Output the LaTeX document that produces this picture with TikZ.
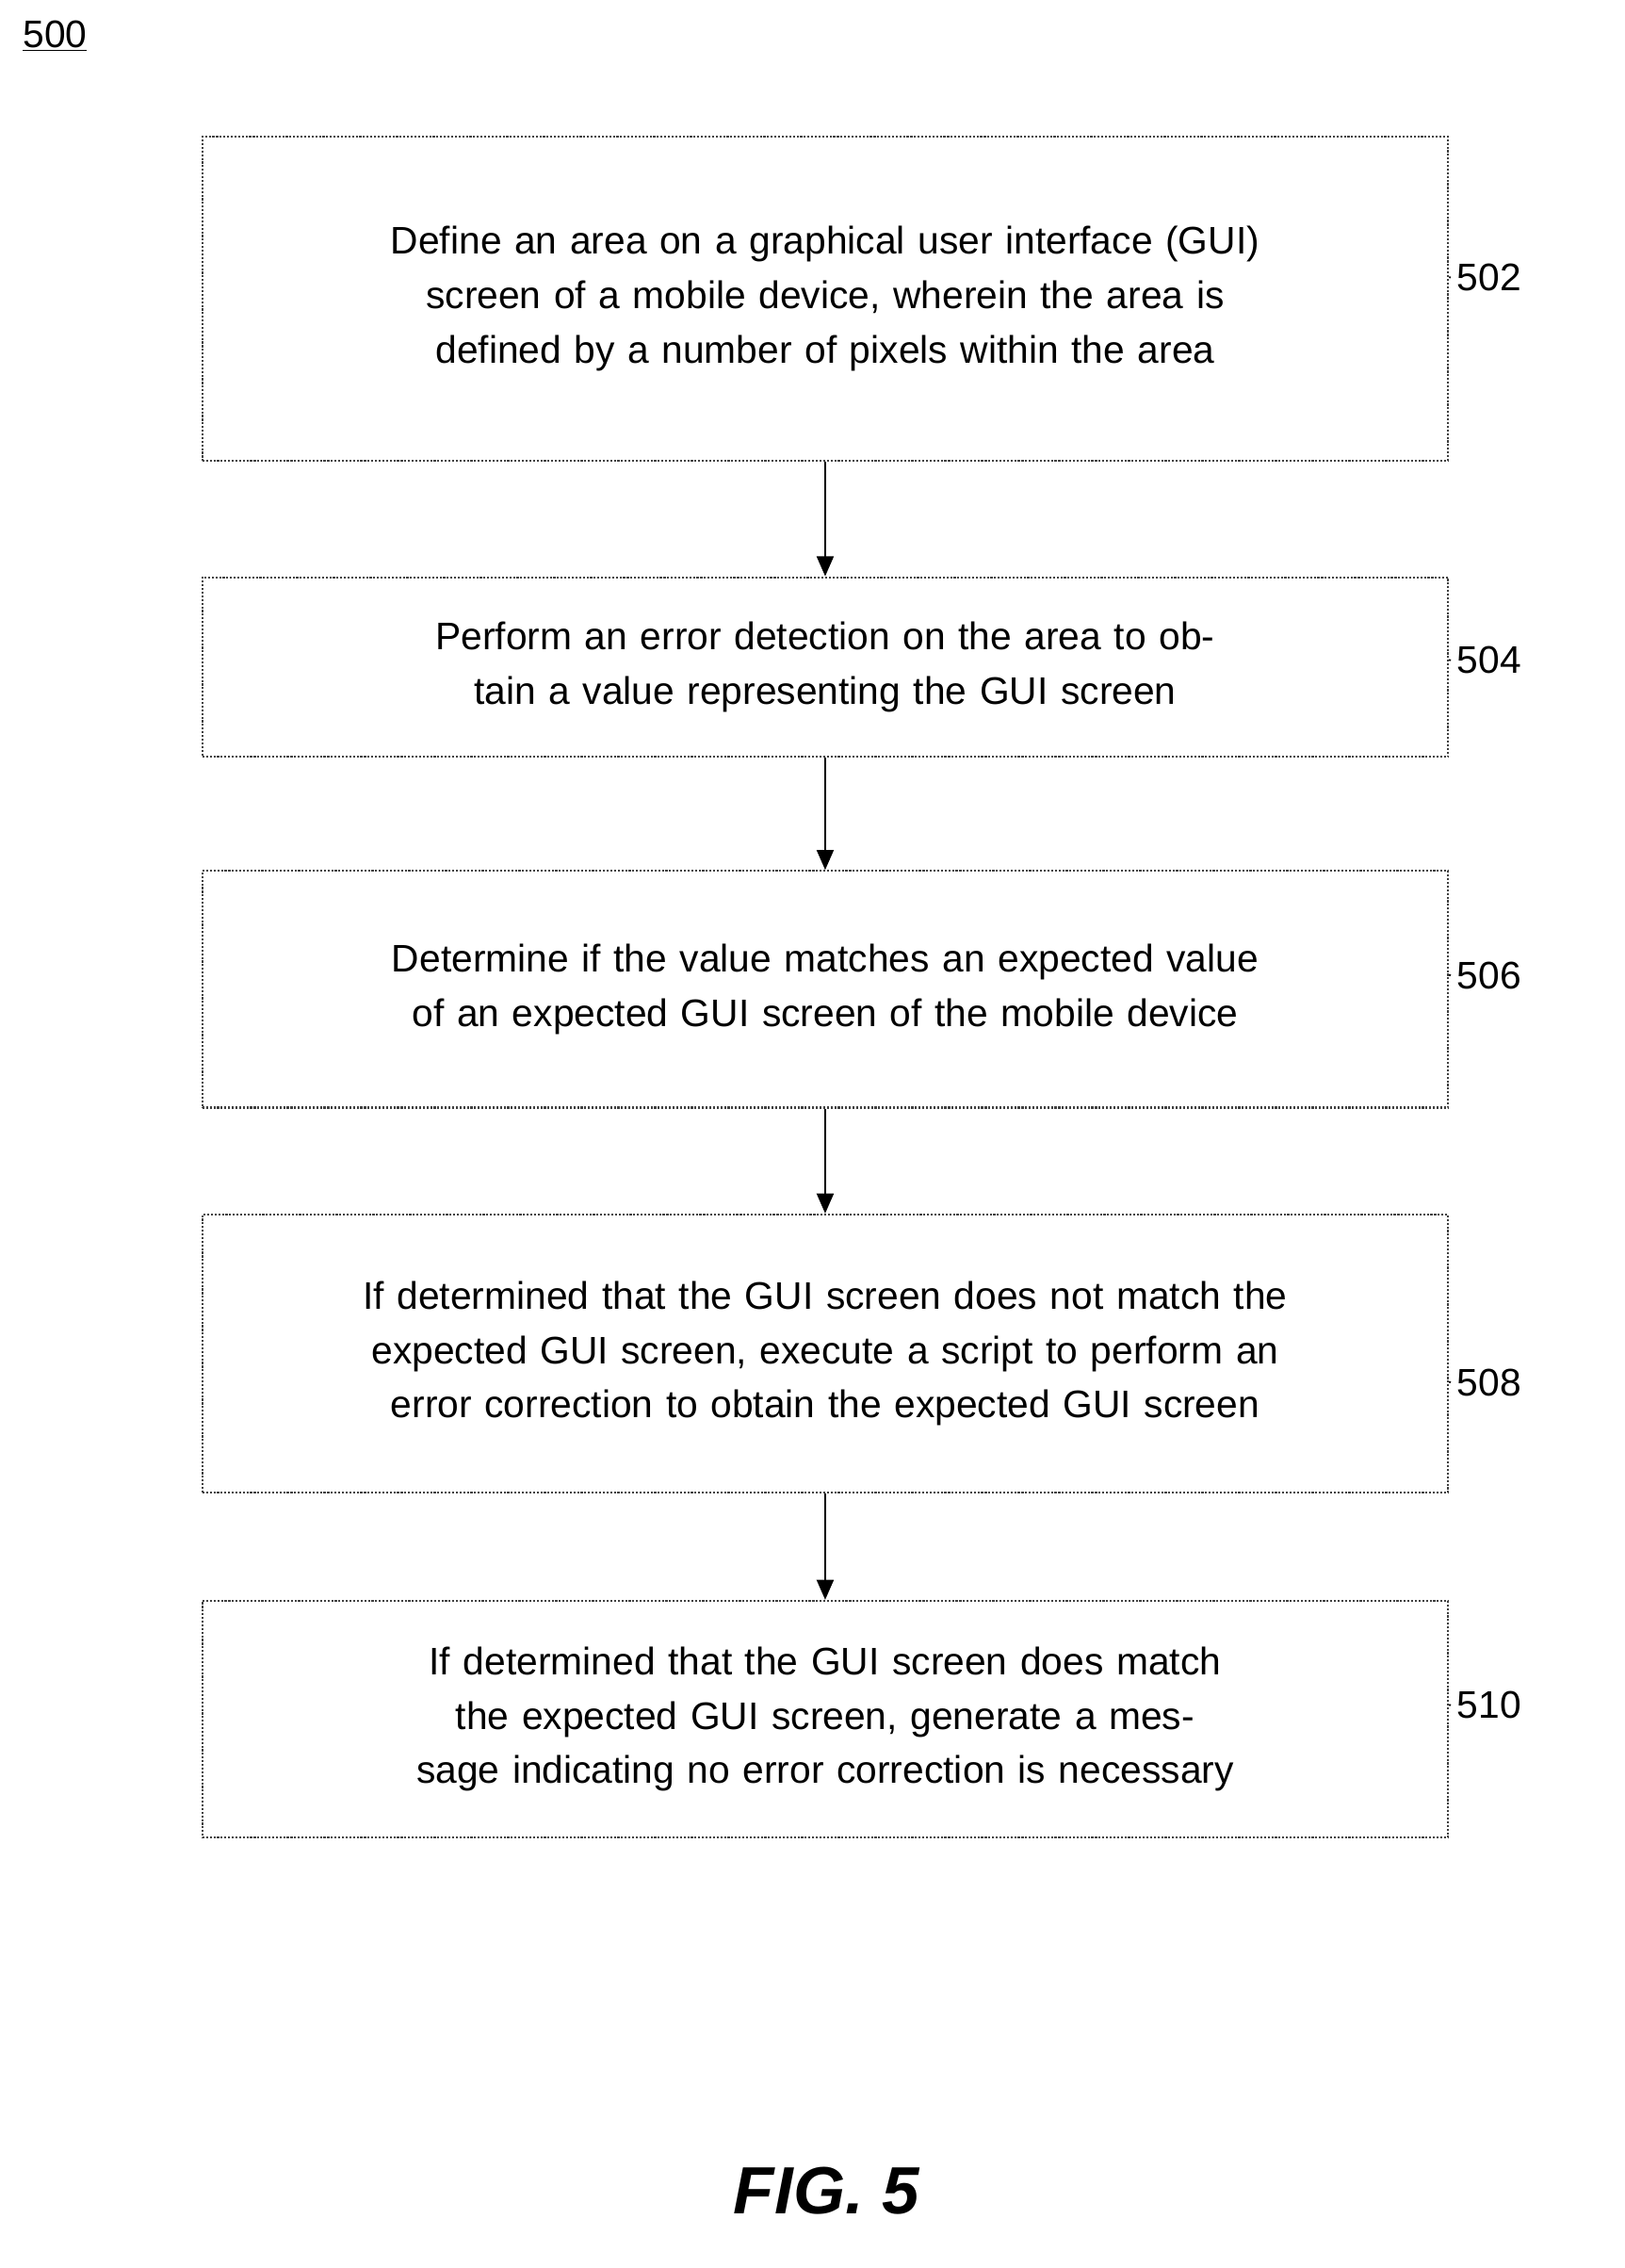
\documentclass[tikz,border=0pt]{standalone}
\usepackage{fontspec}
\setmainfont{Liberation Sans}
\usetikzlibrary{arrows.meta}
\tikzset{
  stepbox/.style={draw=black!75, densely dotted, line width=1.2pt, minimum width=26.22cm, align=center, text width=25.6cm, font=\fontsize{23}{32.5}\selectfont},
  flow/.style={-{Triangle[length=12pt,width=10pt]}, line width=1.6pt},
  reflabel/.style={font=\fontsize{23}{28}\selectfont, anchor=west}
}
\newcommand{\drawRefTag}[2]{\draw [line width=1pt] (#1) .. controls ++(0.35,0.35) and ++(-0.4,0) .. ++(0.75,-0.05) .. controls ++(0.2,0) and ++(-0.2,0) .. ++(0.45,-0.2) node[reflabel] {#2}}

\begin{document}
\begin{tikzpicture}[x=0.03cm,y=0.03cm]
    \useasboundingbox (0,0) rectangle (1140,-1591);

    \node [anchor=west, font=\fontsize{23}{28}\selectfont] (fignum) at (12,-25) {\underline{500}};

    %steps
    \node [stepbox, minimum height=6.81cm] (s502) at (579,-209.5) {Define an area on a graphical user interface (GUI) screen of a mobile device, wherein the area is defined by a number of pixels within the area};
    \node [stepbox, minimum height=3.78cm] (s504) at (579,-468) {Perform an error detection on the area to obtain a value representing the GUI screen};
    \node [stepbox, minimum height=4.98cm] (s506) at (579,-694) {Determine if the value matches an expected value of an expected GUI screen of the mobile device};
    \node [stepbox, minimum height=5.85cm] (s508) at (579,-949.5) {If determined that the GUI screen does not match the expected GUI screen, execute a script to perform an error correction to obtain the expected GUI screen};
    \node [stepbox, minimum height=4.98cm] (s510) at (579,-1206) {If determined that the GUI screen does match the expected GUI screen, generate a message indicating no error correction is necessary};

    %arrows
    \draw [flow] (s502) -- (s504);
    \draw [flow] (s504) -- (s506);
    \draw [flow] (s506) -- (s508);
    \draw [flow] (s508) -- (s510);

    %tags
    \coordinate (t502) at ([yshift=0.45cm]s502.east);
    \coordinate (t504) at ([yshift=0.15cm]s504.east);
    \coordinate (t506) at ([yshift=0.3cm]s506.east);
    \coordinate (t508) at ([yshift=-0.6cm]s508.east);
    \coordinate (t510) at ([yshift=0.3cm]s510.east);
    \drawRefTag{t502}{502};
    \drawRefTag{t504}{504};
    \drawRefTag{t506}{506};
    \drawRefTag{t508}{508};
    \drawRefTag{t510}{510};

    \node [font=\bfseries\itshape\fontsize{40}{48}\selectfont] (caption) at (580,-1537) {FIG. 5};
\end{tikzpicture}
\end{document}
